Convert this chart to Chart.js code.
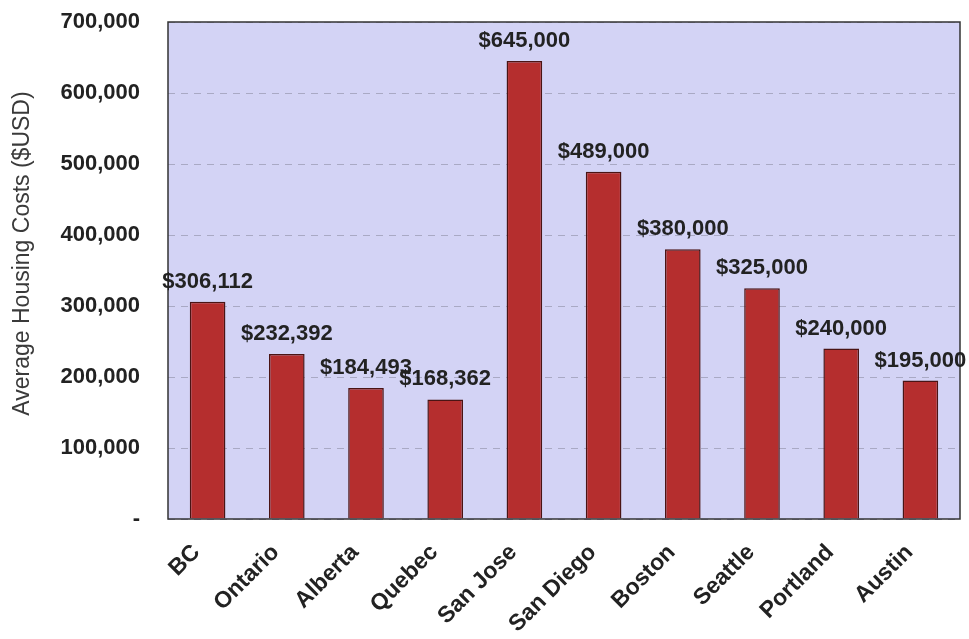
<!DOCTYPE html>
<html>
<head>
<meta charset="utf-8">
<script src="https://cdn.jsdelivr.net/npm/chart.js@4.4.1/dist/chart.umd.min.js"></script>
<style>
  html, body { margin: 0; padding: 0; background: #fff; }
  #wrap { width: 969px; height: 639px; }
</style>
</head>
<body>
<div id="wrap"><canvas id="myChart" width="969" height="639"></canvas></div>
<script>
const places = ['BC', 'Ontario', 'Alberta', 'Quebec', 'San Jose', 'San Diego', 'Boston', 'Seattle', 'Portland', 'Austin'];
const housingCosts = [306112, 232392, 184493, 168362, 645000, 489000, 380000, 325000, 240000, 195000];
const yTicks = [0, 100000, 200000, 300000, 400000, 500000, 600000, 700000];
const yTitle = 'Average Housing Costs ($USD)';

const fontFamily = '"Liberation Sans", Arial, sans-serif';

// plot background + frame + y title (drawn a bit above centre, like the original)
const plotFrame = {
    id: 'plotFrame',
    beforeDraw(chart) {
        const a = chart.chartArea;
        const c = chart.ctx;
        c.save();
        c.fillStyle = '#d3d3f5';
        c.fillRect(a.left, a.top, a.right - a.left, a.bottom - a.top);
        c.restore();
    },
    afterDatasetsDraw(chart) {
        const a = chart.chartArea;
        const c = chart.ctx;
        c.save();
        c.strokeStyle = '#333';
        c.lineWidth = 1.5;
        c.strokeRect(a.left, a.top, a.right - a.left, a.bottom - a.top);

        c.translate(23, (a.top + a.bottom) / 2 - 17);
        c.rotate(-Math.PI / 2);
        c.font = '23px ' + fontFamily;
        c.fillStyle = '#3a3a3a';
        c.textAlign = 'center';
        c.textBaseline = 'middle';
        c.fillText(yTitle, 0, 0);
        c.restore();
    }
};

// value labels above the bars
const valueLabels = {
    id: 'valueLabels',
    afterDatasetsDraw(chart) {
        const c = chart.ctx;
        const meta = chart.getDatasetMeta(0);
        c.save();
        c.font = 'bold 22px ' + fontFamily;
        c.fillStyle = '#222';
        c.textAlign = 'center';
        c.textBaseline = 'alphabetic';
        meta.data.forEach((bar, i) => {
            c.fillText('$' + housingCosts[i].toLocaleString('en-US'), bar.x, bar.y - 14);
        });
        c.restore();
    }
};

const ctx = document.getElementById('myChart').getContext('2d');

let chart = new Chart(ctx, {
    type: 'bar',
    data: {
        labels: places,
        datasets: [{
            data: housingCosts,
            backgroundColor: '#b52e2e',
            borderColor: '#4a1414',
            borderWidth: 1.5,
            barPercentage: 0.45,
            categoryPercentage: 1
        }]
    },
    options: {
        responsive: false,
        animation: false,
        layout: { padding: { top: 22, right: 9, left: 0, bottom: 0 } },
        plugins: {
            legend: { display: false },
            tooltip: { enabled: false }
        },
        scales: {
            x: {
                grid: { display: false },
                border: { display: false },
                ticks: {
                    color: '#222',
                    font: { family: fontFamily, size: 23, weight: 'bold' },
                    maxRotation: 45,
                    minRotation: 45,
                    padding: 12,
                    labelOffset: -11
                },
                afterFit(scale) {
                    scale.height = 120;
                    scale.paddingLeft = 0;
                    scale.paddingRight = 0;
                }
            },
            y: {
                min: 0,
                max: 700000,
                afterBuildTicks(scale) {
                    scale.ticks = yTicks.map(v => ({ value: v }));
                },
                grid: {
                    color: '#a9a9c4',
                    lineWidth: 1,
                    drawTicks: false
                },
                border: { display: false, dash: [7, 6] },
                ticks: {
                    color: '#222',
                    padding: 28,
                    font: { family: fontFamily, size: 22, weight: 'bold' },
                    callback: v => v === 0 ? '-' : v.toLocaleString('en-US')
                },
                afterFit(scale) {
                    scale.width = 168;
                    scale.paddingTop = 0;
                    scale.paddingBottom = 0;
                }
            }
        }
    },
    plugins: [plotFrame, valueLabels]
});
</script>
</body>
</html>
